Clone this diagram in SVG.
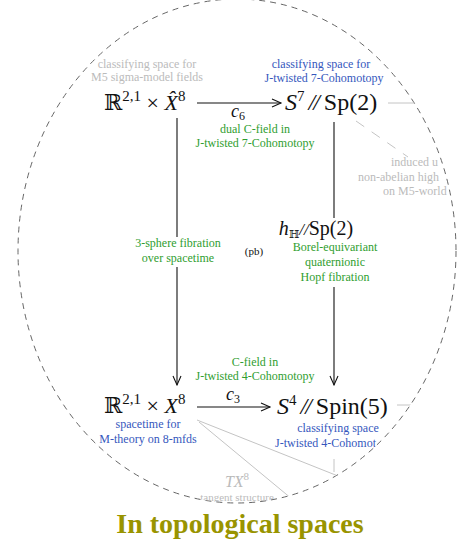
<svg xmlns="http://www.w3.org/2000/svg" width="471" height="544" viewBox="0 0 471 544">
<style>
text{font-family:"Liberation Serif","DejaVu Serif",serif}
.lab{font-size:12px;text-anchor:middle}
.gray{fill:#bbbbbb}
.blue{fill:#3557bd}
.green{fill:#2f9e2f}
.node{font-size:22px;fill:#111}
.big{font-size:24px}
.it{font-style:italic}
.sup{font-size:15px}
.edge{stroke:#111;stroke-width:1.1;fill:none}
.faint{stroke:#c4c4c4;stroke-width:1;fill:none}
</style>
<defs>
<clipPath id="clip"><ellipse cx="237" cy="251" rx="219" ry="252"/></clipPath>
<marker id="arr" markerWidth="12" markerHeight="10" refX="10" refY="5" orient="auto" markerUnits="userSpaceOnUse">
<polyline points="1,1 10,5 1,9" fill="none" stroke="#111" stroke-width="1.1"/>
</marker>
</defs>
<ellipse cx="237" cy="251" rx="219" ry="252" fill="none" stroke="#666" stroke-width="1" stroke-dasharray="6,5"/>
<g clip-path="url(#clip)">
<g id="faint-lines">
<line class="faint" x1="388" y1="103" x2="415" y2="103"/>
<line class="faint" x1="397" y1="405" x2="412" y2="405"/>
<line class="faint" x1="356" y1="121" x2="408" y2="157" stroke-dasharray="10,9"/>
<line class="faint" x1="197" y1="420" x2="338" y2="476"/>
<line class="faint" x1="199" y1="422" x2="292" y2="499"/>
<line class="faint" x1="334" y1="459" x2="334" y2="472"/>
</g>
<g id="connectors">
<line class="edge" x1="197" y1="103" x2="281" y2="103" marker-end="url(#arr)"/>
<line class="edge" x1="197" y1="407" x2="270" y2="407" marker-end="url(#arr)"/>
<line class="edge" x1="177" y1="118" x2="177" y2="237"/>
<line class="edge" x1="177" y1="267" x2="177" y2="385" marker-end="url(#arr)"/>
<line class="edge" x1="334" y1="122" x2="334" y2="218"/>
<line class="edge" x1="334" y1="287" x2="334" y2="385" marker-end="url(#arr)"/>
<text x="238" y="117" class="node it" style="font-size:18px;text-anchor:middle">c<tspan style="font-size:12px;font-style:normal" dy="3">6</tspan></text>
<text x="233" y="400" class="node it" style="font-size:18px;text-anchor:middle">c<tspan style="font-size:12px;font-style:normal" dy="3">3</tspan></text>
<text class="lab green" x="255" y="133">dual C-field in</text>
<text class="lab green" x="255" y="147">J-twisted 7-Cohomotopy</text>
<text class="lab green" x="255" y="366">C-field in</text>
<text class="lab green" x="255" y="380">J-twisted 4-Cohomotopy</text>
<text class="lab green" x="178" y="247">3-sphere fibration</text>
<text class="lab green" x="178" y="262">over spacetime</text>
<text class="lab" x="254" y="255" style="font-size:11px;fill:#111">(pb)</text>
<text x="316" y="235" class="node" style="font-size:20px;text-anchor:middle"><tspan class="it">h</tspan><tspan style="font-size:11px" dy="3">ℍ</tspan><tspan dy="-3" class="it" style="font-size:17px">//</tspan>Sp(2)</text>
<text class="lab green" x="335" y="251">Borel-equivariant</text>
<text class="lab green" x="335" y="266">quaternionic</text>
<text class="lab green" x="335" y="281">Hopf fibration</text>
</g>
<g id="n-top-left">
<text class="lab gray" x="147" y="68">classifying space for</text>
<text class="lab gray" x="147" y="81">M5 sigma-model fields</text>
<text class="node" x="104" y="110">ℝ<tspan class="sup" dy="-9">2,1</tspan><tspan dy="9"> × </tspan><tspan class="it">X̂</tspan><tspan class="sup" dy="-9">8</tspan></text>
</g>
<g id="n-top-right">
<text class="lab blue" x="321" y="68">classifying space for</text>
<text class="lab blue" x="324" y="82">J-twisted 7-Cohomotopy</text>
<text class="node big" x="285" y="110"><tspan class="it">S</tspan><tspan class="sup" dy="-9">7</tspan><tspan dy="9" class="it" letter-spacing="-2"> //</tspan> Sp(2)</text>
</g>
<g id="n-right-note">
<text class="lab gray" x="391" y="166" style="text-anchor:start">induced u</text>
<text class="lab gray" x="358" y="181" style="text-anchor:start">non-abelian high</text>
<text class="lab gray" x="383" y="195" style="text-anchor:start">on M5-world</text>
</g>
<g id="n-bottom-left">
<text class="node" x="104" y="413">ℝ<tspan class="sup" dy="-9">2,1</tspan><tspan dy="9"> × </tspan><tspan class="it">X</tspan><tspan class="sup" dy="-9">8</tspan></text>
<text class="lab blue" x="148" y="428">spacetime for</text>
<text class="lab blue" x="148" y="443">M-theory on 8-mfds</text>
</g>
<g id="n-bottom-right">
<text class="node big" x="277" y="414"><tspan class="it">S</tspan><tspan class="sup" dy="-9">4</tspan><tspan dy="9" class="it" letter-spacing="-2"> //</tspan> Spin(5)</text>
<text class="lab blue" x="338" y="432">classifying space</text>
<text class="lab blue" x="275" y="447" style="text-anchor:start">J-twisted 4-Cohomot</text>
</g>
<g id="n-tangent">
<text x="237" y="487" style="font-size:16px;fill:#bbbbbb;text-anchor:middle;font-style:italic">TX<tspan style="font-size:11px;font-style:normal" dy="-7">8</tspan></text>
<text class="lab gray" x="237" y="501" style="font-size:11px">tangent structure</text>
</g>
</g>
<text x="240" y="533" style="font-size:28px;font-weight:bold;fill:#999400;text-anchor:middle">In topological spaces</text>
</svg>
